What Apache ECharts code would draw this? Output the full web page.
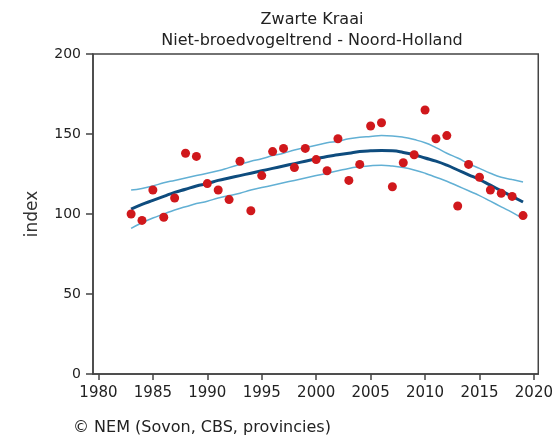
<!DOCTYPE html>
<html>
<head>
<meta charset="utf-8">
<script src="https://cdn.jsdelivr.net/npm/echarts@6/dist/echarts.min.js"></script>
<style>html,body{margin:0;padding:0;background:#fff}#c{width:556px;height:438px}</style>
</head>
<body>
<div id="c"></div>
<script>
const years = [1983,1984,1985,1986,1987,1988,1989,1990,1991,1992,1993,1994,1995,1996,1997,1998,1999,2000,2001,2002,2003,2004,2005,2006,2007,2008,2009,2010,2011,2012,2013,2014,2015,2016,2017,2018,2019];
const observed = [100,96,115,98,110,138,136,119,115,109,133,102,124,139,141,129,141,134,127,147,121,131,155,157,117,132,137,165,147,149,105,131,123,115,113,111,99];
const trend = [103,106,108.5,111,113.5,115.5,117.5,119,121,122.5,124,125.5,127,128.5,130,131.5,133,134.5,136,137,138,139,139.5,139.7,139.5,138.5,137,135,133,130.5,127.5,124.5,121.5,118,114.5,111,107.5];
const upper = [115,116,117.5,119.5,121,122.5,124,125.5,127,129,131,133,134.5,136.5,138,140,141.5,143,144.5,145.5,147,148,148.5,149,148.8,148,146.5,144.5,141.5,138,135,131.5,128.5,125.5,123,121.5,120];
const lower = [91,94.5,97.5,100,102.5,104.5,106.5,108,110,111.5,113,115,116.5,118,119.5,121,122.5,124,125.5,127,128.5,129.5,130.2,130.5,130,129,127.5,125.5,123,120.5,117.5,114.5,111.5,108,104.5,101,97];
const xTicks = [1980,1985,1990,1995,2000,2005,2010,2015,2020];
const titleText = 'Zwarte Kraai\nNiet-broedvogeltrend - Noord-Holland';
const footText = '© NEM (Sovon, CBS, provincies)';
const yName = 'index';

const font = '"DejaVu Sans", sans-serif';
const pair = arr => years.map((y, i) => [y, arr[i]]);

const chart = echarts.init(document.getElementById('c'), null, {renderer: 'canvas'});
chart.setOption({
  animation: false,
  title: [
    {text: titleText, left: 312, top: 9, padding: 0, textAlign: 'center',
     textStyle: {fontFamily: font, fontSize: 16, fontWeight: 'normal', color: '#222', lineHeight: 21}},
    {text: footText, left: 73, top: 420, padding: 0,
     textStyle: {fontFamily: font, fontSize: 16, fontWeight: 'normal', color: '#222'}}
  ],
  grid: {left: 93, top: 54, right: 15, bottom: 64, show: true, borderColor: '#444', borderWidth: 1.5, backgroundColor: '#fff'},
  xAxis: {
    type: 'value', min: 1979.5, max: 2020.4,
    axisLine: {show: true, lineStyle: {color: '#444', width: 1.5}},
    axisTick: {show: true, length: 6, customValues: xTicks, lineStyle: {color: '#444', width: 1.5}},
    axisLabel: {customValues: xTicks, formatter: v => String(v), fontFamily: font, fontSize: 15, color: '#222', margin: 12},
    splitLine: {show: false}
  },
  yAxis: {
    type: 'value', min: 0, max: 200, interval: 50,
    name: yName, nameLocation: 'middle', nameGap: 52, nameRotate: 90,
    nameTextStyle: {fontFamily: font, fontSize: 17, color: '#333'},
    axisLine: {show: true, lineStyle: {color: '#444', width: 1.5}},
    axisTick: {show: true, length: 7, lineStyle: {color: '#444', width: 1.5}},
    axisLabel: {fontFamily: font, fontSize: 14, color: '#222', margin: 12},
    splitLine: {show: false}
  },
  series: [
    {type: 'line', data: pair(upper), smooth: true, symbol: 'none', lineStyle: {color: '#62b0d4', width: 1.5}, z: 2},
    {type: 'line', data: pair(lower), smooth: true, symbol: 'none', lineStyle: {color: '#62b0d4', width: 1.5}, z: 2},
    {type: 'line', data: pair(trend), smooth: true, symbol: 'none', lineStyle: {color: '#0e4c7e', width: 3}, z: 3},
    {type: 'scatter', data: pair(observed), symbol: 'circle', symbolSize: 9, itemStyle: {color: '#d0181c', opacity: 1}, z: 4}
  ]
});
</script>
</body>
</html>
